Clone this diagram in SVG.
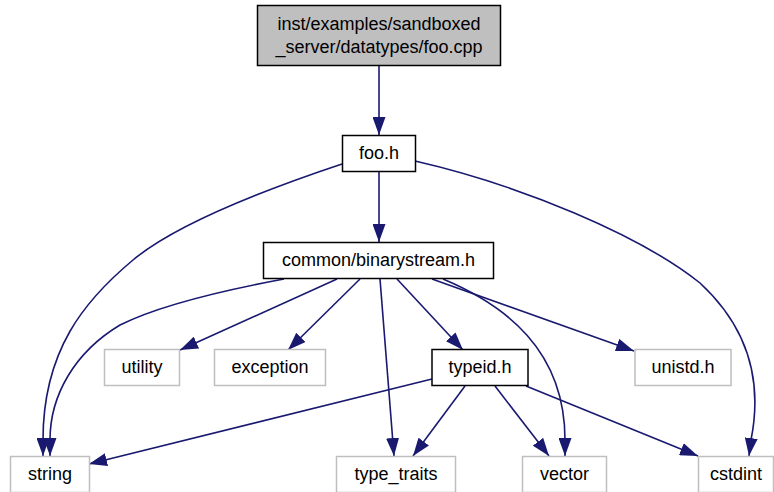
<svg xmlns="http://www.w3.org/2000/svg" width="774" height="492" viewBox="0 0 774 492">
<defs>
<marker id="ah" markerUnits="userSpaceOnUse" markerWidth="18" markerHeight="13" refX="18" refY="6.5" orient="auto">
<path d="M0,0 L18,6.5 L0,13 z" fill="#191970"/>
</marker>
<style>
.n rect{fill:#ffffff;stroke:#000000;stroke-width:1.5}
.x rect{fill:#ffffff;stroke:#bfbfbf;stroke-width:1.5}
.r rect{fill:#bfbfbf;stroke:#000000;stroke-width:1.5}
text{font-family:"Liberation Sans",Arial,sans-serif;font-size:18px;fill:#000000;text-anchor:middle}
#edges path{fill:none;stroke:#191970;stroke-width:1.6;marker-end:url(#ah)}
</style>
</defs>
<rect width="774" height="492" fill="#ffffff"/>
<g id="edges">
<path d="M379,65 L379,135"/>
<path d="M379,172 L379,242"/>
<path d="M342,164 C255,193 175,225 133,260 C85,300 43,350 43,440 L43,456"/>
<path d="M415,161 C520,185 640,235 700,283 C740,320 765,370 751,440 L749,456"/>
<path d="M284,279 C225,290 160,305 120,325 C75,352 50,395 50,440 L50,456"/>
<path d="M337,279 L180,350"/>
<path d="M360,279 L288,350"/>
<path d="M380,279 L394,456"/>
<path d="M397,279 L463,350"/>
<path d="M432,279 L634,351"/>
<path d="M443,279 C505,305 565,350 565,440 L565,456"/>
<path d="M432,379 L89,464"/>
<path d="M465,386 L413,456"/>
<path d="M495,386 L549,456"/>
<path d="M526,386 L698,456"/>
</g>
<g id="node-foo-cpp" class="r"><rect x="257.5" y="5.5" width="243" height="60"/><text x="379" y="30">inst/examples/sandboxed</text><text x="379" y="53">_server/datatypes/foo.cpp</text></g>
<g id="node-foo-h" class="n"><rect x="342.5" y="135.5" width="73" height="36"/><text x="379" y="159">foo.h</text></g>
<g id="node-binarystream" class="n"><rect x="263.5" y="242.5" width="230" height="36"/><text x="378.5" y="266">common/binarystream.h</text></g>
<g id="node-utility" class="x"><rect x="104.5" y="349.5" width="75" height="36"/><text x="142" y="373">utility</text></g>
<g id="node-exception" class="x"><rect x="214.5" y="349.5" width="111" height="36"/><text x="270" y="373">exception</text></g>
<g id="node-typeid" class="n"><rect x="432" y="349.5" width="96" height="36"/><text x="480" y="373">typeid.h</text></g>
<g id="node-unistd" class="x"><rect x="635" y="349.5" width="96" height="36"/><text x="683" y="373">unistd.h</text></g>
<g id="node-string" class="x"><rect x="10.5" y="456.5" width="79" height="36"/><text x="50" y="480">string</text></g>
<g id="node-type-traits" class="x"><rect x="336.5" y="456.5" width="119" height="36"/><text x="396" y="480">type_traits</text></g>
<g id="node-vector" class="x"><rect x="522.5" y="456.5" width="84" height="36"/><text x="564.5" y="480">vector</text></g>
<g id="node-cstdint" class="x"><rect x="698.5" y="456.5" width="75" height="36"/><text x="736" y="480">cstdint</text></g>
</svg>
